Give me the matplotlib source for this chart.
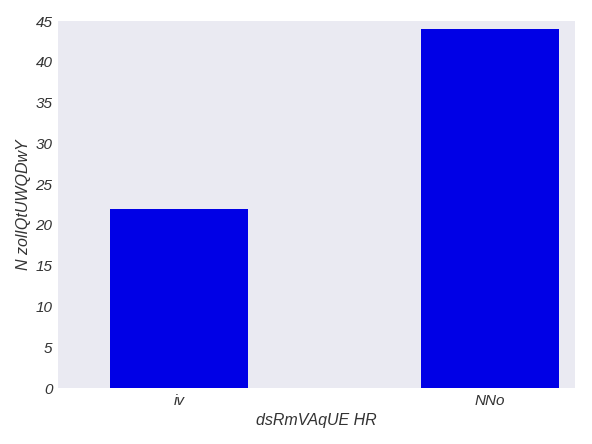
import matplotlib.pyplot as plt

categories = ['iv', 'NNo']
values = [22, 44]
xlabel = 'dsRmVAqUE HR'
ylabel = 'N zolIQtUWQDwY'

plt.rcParams['font.family'] = ['Liberation Sans', 'DejaVu Sans']
plt.rcParams['font.style'] = 'italic'

fig = plt.figure(figsize=(5.92, 4.44), dpi=100)
ax = fig.add_axes([58/592, 1 - 388/444, 517/592, 367/444])
ax.set_facecolor('#EAEAF2')
for s in ax.spines.values():
    s.set_visible(False)

x = list(range(len(categories)))
ax.bar(x, values, width=0.445, color='#0000E6')
ax.set_xlim(-0.39, 1.275)
ax.set_ylim(0, 45)
ax.set_yticks(range(0, 46, 5))
ax.set_xticks(x)
ax.set_xticklabels(categories)
ax.tick_params(length=0, labelsize=11, colors='#333333', pad=4)
ax.set_xlabel(xlabel, fontsize=11.5, color='#333333', labelpad=4)
ax.set_ylabel(ylabel, fontsize=11.5, color='#333333', labelpad=3)

fig.savefig('out.png', dpi=100)
